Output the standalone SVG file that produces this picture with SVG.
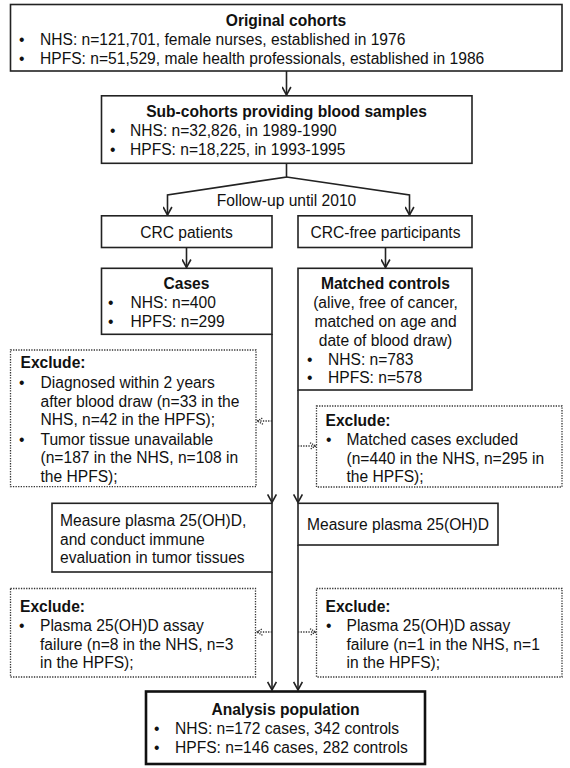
<svg xmlns="http://www.w3.org/2000/svg" width="570" height="768" viewBox="0 0 570 768">
<defs>
<style>
.box{fill:#fff;stroke:#222;stroke-width:1.6}
.dbox{fill:#fff;stroke:#333;stroke-width:1.3;stroke-dasharray:1.3 1.3}
.heavy{fill:#fff;stroke:#111;stroke-width:2.6}
.t{font-family:"Liberation Sans",Arial,sans-serif;font-size:15.6px;fill:#111}
.b{font-weight:bold}
.c{text-anchor:middle}
.ln{fill:none;stroke:#222;stroke-width:1.6}
.dl{fill:none;stroke:#333;stroke-width:1.3;stroke-dasharray:1.3 1.3}
</style>
<marker id="ah" viewBox="0 0 10 10" refX="9" refY="5" markerWidth="10" markerHeight="10" markerUnits="userSpaceOnUse" orient="auto">
<path d="M1,0.6 L9,5 L1,9.4" fill="none" stroke="#222" stroke-width="1.6"/>
</marker>
<marker id="dh" viewBox="0 0 8 8" refX="7" refY="4" markerWidth="8" markerHeight="8" markerUnits="userSpaceOnUse" orient="auto">
<path d="M1,0.8 L7,4 L1,7.2" fill="none" stroke="#333" stroke-width="1.3" stroke-dasharray="1.3 1"/>
</marker>
</defs>
<rect width="570" height="768" fill="#fff"/>

<g id="connectors">
<line class="ln" x1="286.5" y1="71" x2="286.5" y2="95" marker-end="url(#ah)"/>
<polyline class="ln" points="286.5,163.5 286.5,177 167.5,195 167.5,215" marker-end="url(#ah)"/>
<polyline class="ln" points="286.5,177 409.5,195 409.5,215" marker-end="url(#ah)"/>
<line class="ln" x1="186.5" y1="247.5" x2="186.5" y2="267.5" marker-end="url(#ah)"/>
<line class="ln" x1="385.5" y1="247.5" x2="385.5" y2="267.5" marker-end="url(#ah)"/>
<line class="ln" x1="272" y1="334" x2="272" y2="502.5" marker-end="url(#ah)"/>
<line class="ln" x1="298" y1="390" x2="298" y2="502.5" marker-end="url(#ah)"/>
<line class="ln" x1="272" y1="572" x2="272" y2="690" marker-end="url(#ah)"/>
<line class="ln" x1="298" y1="545" x2="298" y2="690" marker-end="url(#ah)"/>
<line class="dl" x1="272" y1="421" x2="257" y2="421" marker-end="url(#dh)"/>
<line class="dl" x1="298" y1="446" x2="316" y2="446" marker-end="url(#dh)"/>
<line class="dl" x1="272" y1="632" x2="256.5" y2="632" marker-end="url(#dh)"/>
<line class="dl" x1="298" y1="632" x2="316" y2="632" marker-end="url(#dh)"/>
</g>

<g id="original-cohorts">
<rect class="box" x="10.5" y="4.5" width="551.5" height="66.5"/>
<text class="t b c" x="286" y="26">Original cohorts</text>
<text class="t" x="19" y="45">•</text><text class="t" x="40" y="45">NHS: n=121,701, female nurses, established in 1976</text>
<text class="t" x="19" y="64">•</text><text class="t" x="40" y="64">HPFS: n=51,529, male health professionals, established in 1986</text>
</g>

<g id="sub-cohorts">
<rect class="box" x="101.5" y="95.8" width="370.5" height="67.5"/>
<text class="t b c" x="286.5" y="117">Sub-cohorts providing blood samples</text>
<text class="t" x="110" y="135.5">•</text><text class="t" x="130" y="135.5">NHS: n=32,826, in 1989-1990</text>
<text class="t" x="110" y="154.5">•</text><text class="t" x="130" y="154.5">HPFS: n=18,225, in 1993-1995</text>
</g>

<g id="follow-up-label">
<text class="t c" x="286.5" y="205.5">Follow-up until 2010</text>
</g>

<g id="crc-patients">
<rect class="box" x="101.5" y="215.8" width="170.5" height="31.7"/>
<text class="t c" x="186.5" y="238">CRC patients</text>
</g>

<g id="crc-free">
<rect class="box" x="298" y="215.8" width="174" height="31.7"/>
<text class="t c" x="385.5" y="238">CRC-free participants</text>
</g>

<g id="cases">
<rect class="box" x="101.5" y="268.3" width="170.5" height="66"/>
<text class="t b c" x="186.5" y="289">Cases</text>
<text class="t" x="108" y="308">•</text><text class="t" x="130.5" y="308">NHS: n=400</text>
<text class="t" x="108" y="326.5">•</text><text class="t" x="130.5" y="326.5">HPFS: n=299</text>
</g>

<g id="matched-controls">
<rect class="box" x="298" y="268.3" width="174" height="121.7"/>
<text class="t b c" x="385.5" y="288.5">Matched controls</text>
<text class="t c" x="385.5" y="308">(alive, free of cancer,</text>
<text class="t c" x="385.5" y="326.5">matched on age and</text>
<text class="t c" x="385.5" y="345.5">date of blood draw)</text>
<text class="t" x="307" y="364.5">•</text><text class="t" x="328" y="364.5">NHS: n=783</text>
<text class="t" x="307" y="383">•</text><text class="t" x="328" y="383">HPFS: n=578</text>
</g>

<g id="exclude-cases-1">
<rect class="dbox" x="10.5" y="350" width="245.5" height="136.7"/>
<text class="t b" x="20.5" y="368">Exclude:</text>
<text class="t" x="19" y="388">•</text><text class="t" x="40.5" y="388">Diagnosed within 2 years</text>
<text class="t" x="40.5" y="406.5">after blood draw (n=33 in the</text>
<text class="t" x="40.5" y="425">NHS, n=42 in the HPFS);</text>
<text class="t" x="19" y="444.5">•</text><text class="t" x="40.5" y="444.5">Tumor tissue unavailable</text>
<text class="t" x="40.5" y="463">(n=187 in the NHS, n=108 in</text>
<text class="t" x="40.5" y="481.5">the HPFS);</text>
</g>

<g id="exclude-controls-1">
<rect class="dbox" x="316.5" y="406" width="245.5" height="81"/>
<text class="t b" x="325.5" y="425.5">Exclude:</text>
<text class="t" x="326" y="445">•</text><text class="t" x="346.5" y="445">Matched cases excluded</text>
<text class="t" x="346.5" y="463.5">(n=440 in the NHS, n=295 in</text>
<text class="t" x="346.5" y="482">the HPFS);</text>
</g>

<g id="measure-cases">
<rect class="box" x="52" y="503.3" width="220" height="68.7"/>
<text class="t" x="60" y="526">Measure plasma 25(OH)D,</text>
<text class="t" x="60" y="544.5">and conduct immune</text>
<text class="t" x="60" y="563">evaluation in tumor tissues</text>
</g>

<g id="measure-controls">
<rect class="box" x="298" y="503.3" width="200" height="41.7"/>
<text class="t" x="307" y="529.5">Measure plasma 25(OH)D</text>
</g>

<g id="exclude-cases-2">
<rect class="dbox" x="10.5" y="588.5" width="245" height="88.5"/>
<text class="t b" x="20" y="611.5">Exclude:</text>
<text class="t" x="19" y="630.5">•</text><text class="t" x="40" y="630.5">Plasma 25(OH)D assay</text>
<text class="t" x="40" y="649.5">failure (n=8 in the NHS, n=3</text>
<text class="t" x="40" y="668">in the HPFS);</text>
</g>

<g id="exclude-controls-2">
<rect class="dbox" x="316.5" y="588.5" width="245.5" height="88.5"/>
<text class="t b" x="325.5" y="611.5">Exclude:</text>
<text class="t" x="326" y="630.5">•</text><text class="t" x="346.5" y="630.5">Plasma 25(OH)D assay</text>
<text class="t" x="346.5" y="649.5">failure (n=1 in the NHS, n=1</text>
<text class="t" x="346.5" y="668">in the HPFS);</text>
</g>

<g id="analysis-population">
<rect class="heavy" x="146" y="691.5" width="279" height="72.5"/>
<text class="t b c" x="285.5" y="715">Analysis population</text>
<text class="t" x="154" y="734">•</text><text class="t" x="175" y="734">NHS: n=172 cases, 342 controls</text>
<text class="t" x="154" y="753">•</text><text class="t" x="175" y="753">HPFS: n=146 cases, 282 controls</text>
</g>
</svg>
